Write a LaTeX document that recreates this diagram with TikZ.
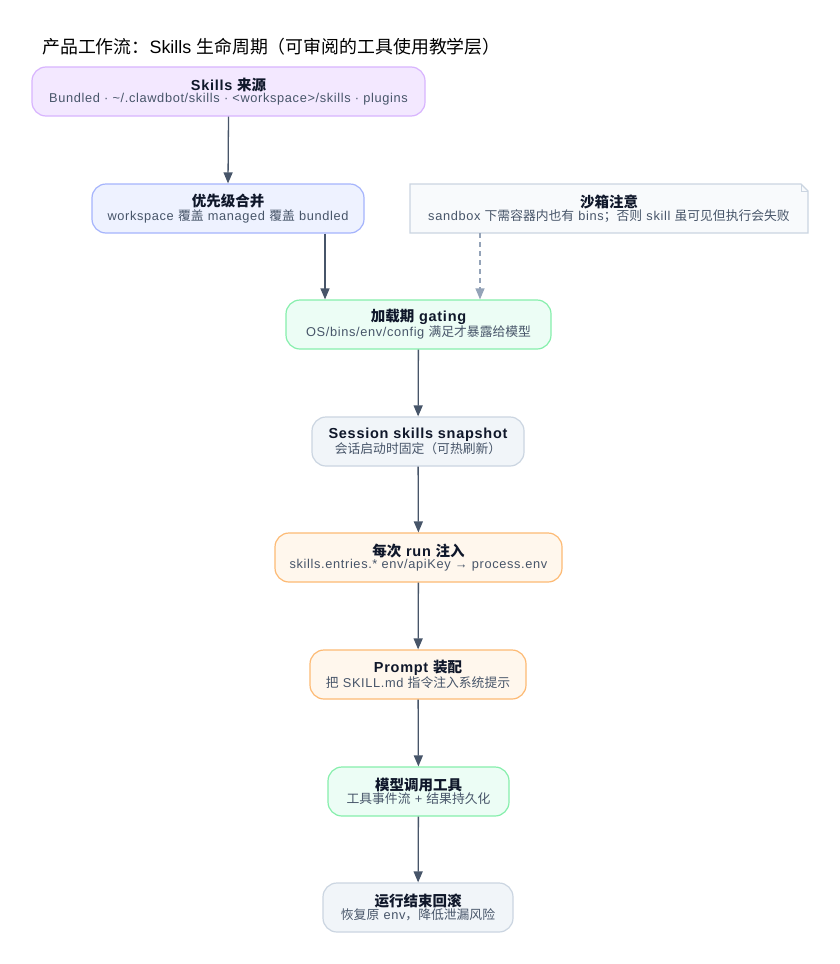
\documentclass[tikz,border=0pt]{standalone}
\usepackage{fontspec}
\setmainfont{Liberation Sans}[LetterSpace=5]
\newfontfamily\titlef{Liberation Sans}
\newfontfamily\cjkf{Noto Sans CJK SC}
\newcommand{\zh}[1]{{\cjkf #1}}
\usetikzlibrary{arrows.meta}
\definecolor{ink}{HTML}{0F172A}
\definecolor{sub}{HTML}{475569}
\definecolor{edge}{HTML}{475569}
\definecolor{notedge}{HTML}{94A3B8}
\definecolor{purF}{HTML}{F3E8FF}\definecolor{purD}{HTML}{D8B4FE}
\definecolor{indF}{HTML}{EEF2FF}\definecolor{indD}{HTML}{A5B4FC}
\definecolor{grnF}{HTML}{ECFDF5}\definecolor{grnD}{HTML}{86EFAC}
\definecolor{slaF}{HTML}{F1F5F9}\definecolor{slaD}{HTML}{CBD5E1}
\definecolor{orgF}{HTML}{FFF7ED}\definecolor{orgD}{HTML}{FDBA74}
\definecolor{notF}{HTML}{F8FAFC}
\newcommand{\boxtext}[2]{{\fontsize{14.5}{15}\selectfont\bfseries\color{ink}#1}\\[0pt]{\fontsize{12.8}{13}\selectfont\color{sub}#2}}
\begin{document}
\begin{tikzpicture}[x=1pt,y=-1pt,
  stepbox/.style={draw, line width=1.2pt, rounded corners=14pt, minimum height=49pt, align=center, inner sep=0pt, font=\fontsize{12}{12}\selectfont},
  purbox/.style={stepbox, fill=purF, draw=purD},
  indbox/.style={stepbox, fill=indF, draw=indD},
  grnbox/.style={stepbox, fill=grnF, draw=grnD},
  slabox/.style={stepbox, fill=slaF, draw=slaD},
  orgbox/.style={stepbox, fill=orgF, draw=orgD},
  flow/.style={draw=edge, line width=1.3pt, -{Triangle[length=11pt,width=9pt]}},
  noteflow/.style={draw=notedge, line width=1.2pt, dash pattern=on 5pt off 4pt, -{Triangle[length=11pt,width=9pt]}}
]
\useasboundingbox (0,0) rectangle (840,964);
\fill[white] (0,0) rectangle (840,964);

\node[anchor=west, inner sep=0pt, font=\fontsize{17.9}{19}\selectfont\titlef, text=black] (title) at (42,47) {\zh{产品工作流：}Skills \zh{生命周期（可审阅的工具使用教学层）}};

\node[purbox, minimum width=393pt] (src) at (228.5,91.5) {\boxtext{Skills \zh{来源}}{Bundled · \textasciitilde/.clawdbot/skills · <workspace>/skills · plugins}};
\node[indbox, minimum width=272pt] (merge) at (228,208.5) {\boxtext{\zh{优先级合并}}{workspace \zh{覆盖} managed \zh{覆盖} bundled}};

% note with folded corner
\filldraw[fill=notF, draw=slaD, line width=1.2pt] (410,184) -- (801,184) -- (808,191) -- (808,233) -- (410,233) -- cycle;
\draw[draw=slaD, line width=1pt] (801,184) -- (801,191) -- (808,191);
\node[inner sep=0pt, align=center, minimum width=398pt, minimum height=49pt, font=\fontsize{12}{12}\selectfont] (note) at (609,208.5) {\boxtext{\zh{沙箱注意}}{sandbox \zh{下需容器内也有} bins\zh{；否则} skill \zh{虽可见但执行会失败}}};

\node[grnbox, minimum width=265pt] (gate) at (418.5,324.5) {\boxtext{\zh{加载期} gating}{OS/bins/env/config \zh{满足才暴露给模型}}};
\node[slabox, minimum width=212pt] (snap) at (418,441.5) {\boxtext{Session skills snapshot}{\zh{会话启动时固定（可热刷新）}}};
\node[orgbox, minimum width=287pt] (inject) at (418.5,557.5) {\boxtext{\zh{每次} run \zh{注入}}{skills.entries.* env/apiKey → process.env}};
\node[orgbox, minimum width=216pt] (prompt) at (418,674.5) {\boxtext{Prompt \zh{装配}}{\zh{把} SKILL.md \zh{指令注入系统提示}}};
\node[grnbox, minimum width=181pt] (tool) at (418.5,791.5) {\boxtext{\zh{模型调用工具}}{\zh{工具事件流} + \zh{结果持久化}}};
\node[slabox, minimum width=190pt] (undo) at (418,907.5) {\boxtext{\zh{运行结束回滚}}{\zh{恢复原} env\zh{，降低泄漏风险}}};

\draw[flow] (src.south) -- (merge.north);
\draw[flow] (merge.south -| 325,0) -- (gate.north -| 325,0);
\draw[noteflow] (note.south -| 480,0) -- (gate.north -| 480,0);
\draw[flow] (gate) -- (snap);
\draw[flow] (snap) -- (inject);
\draw[flow] (inject) -- (prompt);
\draw[flow] (prompt) -- (tool);
\draw[flow] (tool) -- (undo);
\end{tikzpicture}
\end{document}
